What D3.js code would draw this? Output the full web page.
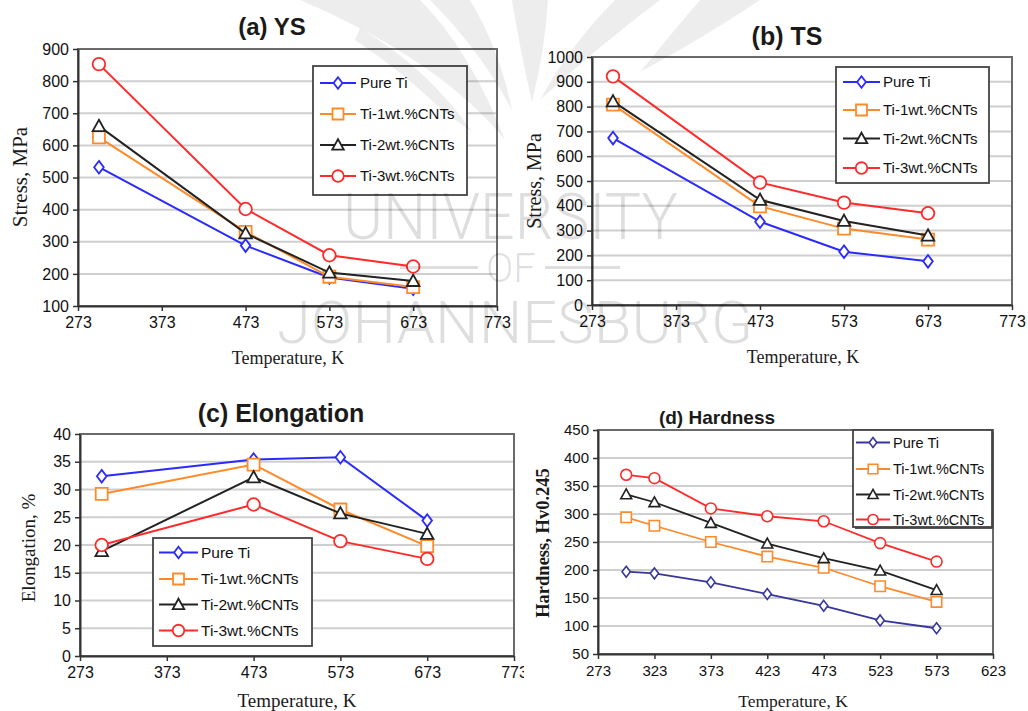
<!DOCTYPE html>
<html>
<head>
<meta charset="utf-8">
<script src="https://cdn.jsdelivr.net/npm/d3@7"></script>
<style>
  html, body { margin: 0; padding: 0; background: #fff; }
  svg { display: block; }
</style>
</head>
<body>
<svg id="chart" width="1028" height="711"></svg>
<script>
// ---- data ----
const seriesNames = ["Pure Ti", "Ti-1wt.%CNTs", "Ti-2wt.%CNTs", "Ti-3wt.%CNTs"];

// tensile tests (K)
const tempsTensile = [298, 473, 573, 673];
// hardness tests (K)
const tempsHardness = [298, 323, 373, 423, 473, 523, 573];

// (a) yield strength, MPa
const ysPureTi = [532, 288, 189, 154];
const ysTi1 = [625, 331, 191, 159];
const ysTi2 = [660, 326, 204, 178];
const ysTi3 = [853, 402, 258, 223];

// (b) tensile strength, MPa
const tsPureTi = [673, 336, 215, 176];
const tsTi1 = [808, 398, 308, 264];
const tsTi2 = [821, 424, 339, 280];
const tsTi3 = [922, 494, 413, 370];

// (c) elongation, %
const elPureTi = [32.4, 35.4, 35.8, 24.4];
const elTi1 = [29.2, 34.5, 26.4, 19.8];
const elTi2 = [18.9, 32.2, 25.7, 22.0];
const elTi3 = [20.0, 27.3, 20.7, 17.5];

// (d) hardness, Hv0.245
const hvPureTi = [197, 194, 178, 157, 136, 110, 96];
const hvTi1 = [294, 279, 250, 224, 204, 171, 143];
const hvTi2 = [335, 321, 284, 247, 221, 199, 164];
const hvTi3 = [370, 364, 310, 296, 287, 248, 215];

// tick labels
const xTicksTensile = [273, 373, 473, 573, 673, 773];
const xTicksHardness = [273, 323, 373, 423, 473, 523, 573, 623];
const yTicksYS = [100, 200, 300, 400, 500, 600, 700, 800, 900];
const yTicksTS = [0, 100, 200, 300, 400, 500, 600, 700, 800, 900, 1000];
const yTicksEl = [0, 5, 10, 15, 20, 25, 30, 35, 40];
const yTicksHv = [50, 100, 150, 200, 250, 300, 350, 400, 450];

// ---- drawing ----
const svg = d3.select("#chart");
svg.append("rect").attr("width", 1028).attr("height", 711).attr("fill", "#fff");

const SANS = "'Liberation Sans', Arial, sans-serif";
const SERIF = "'Liberation Serif', 'Times New Roman', serif";

const markerShapes = ["diamond", "square", "triangle", "circle"];

function markerPath(shape, s) {
  // s = half-size of the marker
  if (shape === "diamond") {
    const w = s * 0.8, h = s * 1.05;
    return `M0,${-h}L${w},0L0,${h}L${-w},0Z`;
  }
  if (shape === "square") {
    return `M${-s},${-s}H${s}V${s}H${-s}Z`;
  }
  if (shape === "triangle") {
    const h = s * 1.05;
    return `M0,${-h}L${s * 1.05},${h * 0.8}L${-s * 1.05},${h * 0.8}Z`;
  }
  return d3.arc()({ innerRadius: 0, outerRadius: s * 1.05, startAngle: 0, endAngle: 2 * Math.PI });
}

function drawPanel(p) {
  const g = svg.append("g");
  const x = d3.scaleLinear().domain(p.xDomain).range([p.left, p.right]);
  const y = d3.scaleLinear().domain(p.yDomain).range([p.bottom, p.top]);

  // horizontal gridlines
  g.append("g").selectAll("line")
    .data(p.yTicks.slice(1, -1))
    .join("line")
    .attr("x1", p.left).attr("x2", p.right)
    .attr("y1", d => y(d)).attr("y2", d => y(d))
    .attr("stroke", "#cfcfcf").attr("stroke-width", 2);

  // plot frame
  g.append("rect")
    .attr("x", p.left).attr("y", p.top)
    .attr("width", p.right - p.left).attr("height", p.bottom - p.top)
    .attr("fill", "none").attr("stroke", "#6a6a6a").attr("stroke-width", 2);

  // axes
  const ax = g.append("g").attr("transform", `translate(0,${p.bottom})`)
    .call(d3.axisBottom(x).tickValues(p.xTicks).tickSize(5).tickSizeOuter(0).tickPadding(6).tickFormat(d3.format("d")));
  const ay = g.append("g").attr("transform", `translate(${p.left},0)`)
    .call(d3.axisLeft(y).tickValues(p.yTicks).tickSize(5).tickSizeOuter(0).tickPadding(4).tickFormat(d3.format("d")));
  [ax, ay].forEach(a => {
    a.select(".domain").attr("stroke", "#333").attr("stroke-width", 2);
    a.selectAll(".tick line").attr("stroke", "#333").attr("stroke-width", 1.5);
    a.selectAll(".tick text")
      .attr("font-family", SANS).attr("font-size", p.tickSize).attr("fill", "#111");
  });

  // series
  const line = d3.line().x(d => x(d[0])).y(d => y(d[1]));
  p.series.forEach((vals, i) => {
    const pts = p.temps.map((t, k) => [t, vals[k]]);
    g.append("path").datum(pts)
      .attr("d", line).attr("fill", "none")
      .attr("stroke", p.colors[i]).attr("stroke-width", p.lineWidth);
    g.append("g").selectAll("path")
      .data(pts).join("path")
      .attr("transform", d => `translate(${x(d[0])},${y(d[1])})`)
      .attr("d", markerPath(markerShapes[i], p.markerSize))
      .attr("fill", "#fff").attr("stroke", p.colors[i]).attr("stroke-width", p.markerStroke);
  });

  // legend
  const L = p.legend;
  if (L.shadow) {
    g.append("rect").attr("x", L.x + 2).attr("y", L.y + 2)
      .attr("width", L.w).attr("height", L.h).attr("fill", "#555");
  }
  g.append("rect").attr("x", L.x).attr("y", L.y)
    .attr("width", L.w).attr("height", L.h)
    .attr("fill", "#fff").attr("stroke", "#444").attr("stroke-width", 1.8);
  seriesNames.forEach((name, i) => {
    const ly = L.rows[i];
    g.append("line").attr("x1", L.lineX0).attr("x2", L.lineX1)
      .attr("y1", ly).attr("y2", ly)
      .attr("stroke", p.colors[i]).attr("stroke-width", p.lineWidth);
    g.append("path")
      .attr("transform", `translate(${(L.lineX0 + L.lineX1) / 2},${ly})`)
      .attr("d", markerPath(markerShapes[i], L.markerSize))
      .attr("fill", "#fff").attr("stroke", p.colors[i]).attr("stroke-width", p.markerStroke);
    g.append("text").attr("x", L.textX).attr("y", ly)
      .attr("dy", "0.35em")
      .attr("font-family", SANS).attr("font-size", L.fontSize).attr("fill", "#111")
      .text(name);
  });

  // title and axis titles
  g.append("text").attr("x", p.title.x).attr("y", p.title.y)
    .attr("text-anchor", "middle")
    .attr("font-family", SANS).attr("font-weight", "bold")
    .attr("font-size", p.title.size).attr("fill", "#1a1a1a")
    .text(p.title.text);
  g.append("text").attr("x", p.xLabel.x).attr("y", p.xLabel.y)
    .attr("text-anchor", "middle")
    .attr("font-family", SERIF).attr("font-size", p.xLabel.size).attr("fill", "#1a1a1a")
    .text("Temperature, K");
  g.append("text")
    .attr("transform", `translate(${p.yLabel.x},${p.yLabel.y}) rotate(-90)`)
    .attr("text-anchor", "middle")
    .attr("font-family", SERIF).attr("font-size", p.yLabel.size)
    .attr("font-weight", p.yLabel.bold ? "bold" : "normal").attr("fill", "#1a1a1a")
    .text(p.yLabel.text);
}

const colorsMain = ["#2a2aff", "#ff8a2a", "#222222", "#ff2a2a"];
const colorsHv = ["#36369c", "#ff8a2a", "#222222", "#ff2a2a"];

// (a) yield strength
drawPanel({
  left: 78, right: 497, top: 49, bottom: 306,
  xDomain: [273, 773], yDomain: [100, 900],
  xTicks: xTicksTensile, yTicks: yTicksYS, temps: tempsTensile,
  series: [ysPureTi, ysTi1, ysTi2, ysTi3], colors: colorsMain,
  tickSize: 16, lineWidth: 2, markerSize: 6, markerStroke: 1.8,
  legend: { x: 313, y: 66, w: 154, h: 129, rows: [83, 114, 145, 176],
            lineX0: 320, lineX1: 356, textX: 360, fontSize: 15, markerSize: 5.5 },
  title: { text: "(a) YS", x: 272, y: 35, size: 24 },
  xLabel: { x: 288, y: 364, size: 18 },
  yLabel: { text: "Stress, MPa", x: 27, y: 177, size: 21 }
});

// (b) tensile strength
drawPanel({
  left: 592, right: 1012, top: 57, bottom: 305,
  xDomain: [273, 773], yDomain: [0, 1000],
  xTicks: xTicksTensile, yTicks: yTicksTS, temps: tempsTensile,
  series: [tsPureTi, tsTi1, tsTi2, tsTi3], colors: colorsMain,
  tickSize: 16, lineWidth: 2, markerSize: 6, markerStroke: 1.8,
  legend: { x: 836, y: 67, w: 153, h: 116, rows: [82, 110, 138.5, 168],
            lineX0: 843, lineX1: 880, textX: 883, fontSize: 15, markerSize: 5.5 },
  title: { text: "(b) TS", x: 787, y: 45, size: 25 },
  xLabel: { x: 803, y: 363, size: 18 },
  yLabel: { text: "Stress, MPa", x: 541, y: 181, size: 20 }
});

// (c) elongation
drawPanel({
  left: 80, right: 514, top: 434, bottom: 656,
  xDomain: [273, 773], yDomain: [0, 40],
  xTicks: xTicksTensile, yTicks: yTicksEl, temps: tempsTensile,
  series: [elPureTi, elTi1, elTi2, elTi3], colors: colorsMain,
  tickSize: 16, lineWidth: 2, markerSize: 6, markerStroke: 1.8,
  legend: { x: 153, y: 538, w: 159, h: 108, rows: [552.5, 579, 604.5, 630.5],
            lineX0: 159, lineX1: 198, textX: 201, fontSize: 15.5, markerSize: 5.5 },
  title: { text: "(c) Elongation", x: 281, y: 422, size: 25 },
  xLabel: { x: 297, y: 707, size: 19 },
  yLabel: { text: "Elongation, %", x: 35, y: 548, size: 19 }
});

// the right-hand lower panel sits on its own white sheet
svg.append("rect").attr("x", 524).attr("y", 380).attr("width", 504).attr("height", 331).attr("fill", "#fff");

// (d) hardness
drawPanel({
  left: 598, right: 993, top: 430, bottom: 654,
  xDomain: [273, 623], yDomain: [50, 450],
  xTicks: xTicksHardness, yTicks: yTicksHv, temps: tempsHardness,
  series: [hvPureTi, hvTi1, hvTi2, hvTi3], colors: colorsHv,
  tickSize: 15, lineWidth: 1.8, markerSize: 5.2, markerStroke: 1.6,
  legend: { x: 853, y: 430, w: 139, h: 97, rows: [442.5, 469, 494.5, 519.5],
            lineX0: 856, lineX1: 890, textX: 893, fontSize: 14.5, markerSize: 4.8, shadow: true },
  title: { text: "(d) Hardness", x: 717, y: 424, size: 19 },
  xLabel: { x: 793, y: 707, size: 17.5 },
  yLabel: { text: "Hardness, Hv0.245", x: 549, y: 543, size: 18.5, bold: true }
});

// ---- faint watermark over the figure ----
const wm = svg.append("g").attr("fill", "#000")
  .attr("font-family", "Roboto, 'Open Sans', sans-serif").attr("font-weight", 300);

// emblem: tapered feather strokes near the top centre
const feathers = [
  "M300,0 L420,0 Q470,50 505,140 Q440,60 300,0 Z",
  "M360,28 Q430,70 472,132 Q455,120 440,108 Q400,70 355,40 Z",
  "M430,0 L470,0 Q500,50 512,110 Q480,50 430,0 Z",
  "M512,0 L548,0 Q545,50 532,102 Q520,50 512,0 Z",
  "M615,0 L660,0 Q600,45 540,100 Q570,45 615,0 Z",
  "M700,0 L760,0 Q700,40 640,72 Q670,35 700,0 Z"
];
wm.append("g").attr("fill-opacity", 0.07)
  .selectAll("path").data(feathers).join("path").attr("d", d => d);

const wmText = wm.append("g").attr("fill-opacity", 0.13);
wmText.append("text").attr("x", 343).attr("y", 239)
  .attr("font-size", 64).attr("textLength", 335).attr("lengthAdjust", "spacingAndGlyphs")
  .text("UNIVERSITY");
wmText.append("text").attr("x", 486).attr("y", 282)
  .attr("font-size", 40).attr("textLength", 50).attr("lengthAdjust", "spacingAndGlyphs")
  .text("OF");
wmText.append("text").attr("x", 277).attr("y", 343)
  .attr("font-size", 60).attr("textLength", 476).attr("lengthAdjust", "spacingAndGlyphs")
  .text("JOHANNESBURG");
wmText.append("rect").attr("x", 400).attr("y", 266).attr("width", 78).attr("height", 3);
wmText.append("rect").attr("x", 545).attr("y", 266).attr("width", 75).attr("height", 3);
</script>
</body>
</html>
